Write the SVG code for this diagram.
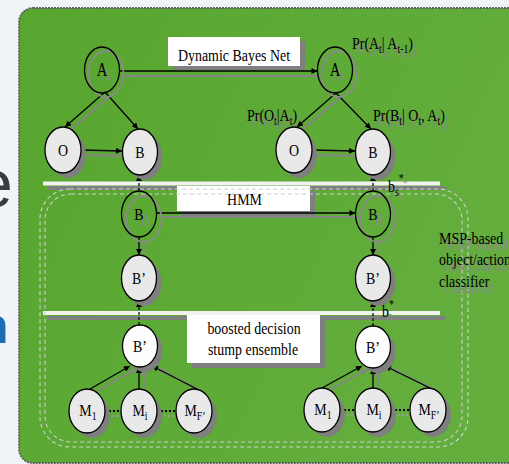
<svg xmlns="http://www.w3.org/2000/svg" width="509" height="464" viewBox="0 0 509 464">
<defs>
<linearGradient id="gp" x1="0" y1="0" x2="1" y2="0.4">
<stop offset="0" stop-color="#57a62f"/>
<stop offset="1" stop-color="#64ae3d"/>
</linearGradient>
<marker id="ah" viewBox="0 0 10 10" refX="10" refY="5" markerWidth="7" markerHeight="6" markerUnits="userSpaceOnUse" orient="auto"><path d="M0,0 L10,5 L0,10 z" fill="#000"/></marker>
<marker id="ahg" viewBox="0 0 10 10" refX="10" refY="5" markerWidth="7" markerHeight="6" markerUnits="userSpaceOnUse" orient="auto"><path d="M0,0 L10,5 L0,10 z" fill="#868686"/></marker>
</defs>
<style>
.t{font-family:"Liberation Serif","Times New Roman",serif;font-size:17px;fill:#000}
.ts{font-family:"Liberation Serif","Times New Roman",serif;font-size:17px;fill:#878d84}
.nf{fill:#e9e9e9;stroke:#000;stroke-width:1.3}
.nw{fill:#fdfdfd;stroke:#000;stroke-width:1.3}
.no{fill:none;stroke:#000;stroke-width:1.3}
.sh{fill:#7f7f7f}
.sho{fill:none;stroke:#8a8a8a;stroke-width:1.8}
.e{stroke:#000;stroke-width:1.3;fill:none;marker-end:url(#ah)}
.es{stroke:#868686;stroke-width:1.8;fill:none}
.esa{stroke:#868686;stroke-width:1.5;fill:none;marker-end:url(#ahg)}
.d{stroke:#000;stroke-width:1.2;fill:none;stroke-dasharray:3,2;marker-end:url(#ah)}
.dot{stroke:#000;stroke-width:2;stroke-dasharray:2,2}
.dotg{stroke:#999;stroke-width:2;stroke-dasharray:2,2}
.dash{fill:none;stroke:#cfcfcf;stroke-width:1.1;stroke-dasharray:4,3}
.box{fill:#fff}
.bsh{fill:#7f7f7f}
</style>
<rect x="0" y="0" width="509" height="464" fill="#f0f4f8"/>
<text x="-25" y="207" font-family="'Liberation Sans',Arial,sans-serif" font-size="68" fill="#3c3c3c">e</text>
<text x="-22" y="343" font-family="'Liberation Sans',Arial,sans-serif" font-size="50" font-weight="bold" fill="#1b6cb5">n</text>
<rect x="19" y="8" width="530" height="455" rx="14" fill="url(#gp)" stroke="#5e5e5e" stroke-width="1.8" stroke-dasharray="2,1"/>

<g id="bars">
<rect x="48" y="186" width="397" height="4" fill="#808080"/>
<rect x="43" y="181.5" width="397" height="4" fill="#f2f2f2"/>
<rect x="48" y="316" width="397" height="4" fill="#808080"/>
<rect x="43" y="311" width="397" height="4" fill="#f2f2f2"/>
</g>

<g id="box-dbn">
<rect class="bsh" x="173" y="41" width="132" height="29"/>
<rect class="box" x="168" y="37" width="132" height="29"/>
<text class="t" text-anchor="middle" transform="translate(234,61) scale(0.82,1)">Dynamic Bayes Net</text>
</g>
<g id="box-hmm">
<rect class="bsh" x="182" y="191" width="133" height="25"/>
<rect class="box" x="177" y="186" width="133" height="25"/>
<text class="t" text-anchor="middle" transform="translate(244.5,205) scale(0.82,1)">HMM</text>
</g>
<g id="box-boost">
<rect class="bsh" x="192" y="320" width="133" height="48"/>
<rect class="box" x="187" y="315" width="133" height="48"/>
<text class="t" text-anchor="middle" transform="translate(254,334) scale(0.82,1)">boosted decision</text>
<text class="t" text-anchor="middle" transform="translate(253,355) scale(0.82,1)">stump ensemble</text>
</g>

<g id="msp-region">
<rect class="dash" x="40" y="189" width="428" height="258" rx="30"/>
<rect class="dash" x="45" y="194" width="417" height="248" rx="26"/>
<text class="ts" transform="translate(444,250) scale(0.82,1)">MSP-based</text>
<text class="ts" transform="translate(444,271) scale(0.82,1)">object/action</text>
<text class="ts" transform="translate(444,293) scale(0.82,1)">classifier</text>
<text class="t" transform="translate(439,244) scale(0.82,1)">MSP-based</text>
<text class="t" transform="translate(439,265) scale(0.82,1)">object/action</text>
<text class="t" transform="translate(439,287) scale(0.82,1)">classifier</text>
</g>

<g id="labels">
<text class="ts" transform="translate(356,54) scale(0.82,1)">Pr(A<tspan font-size="12" dy="4">t</tspan><tspan dy="-4">| A</tspan><tspan font-size="12" dy="4">t-1</tspan><tspan dy="-4">)</tspan></text>
<text class="t" transform="translate(352,49) scale(0.82,1)">Pr(A<tspan font-size="12" dy="4">t</tspan><tspan dy="-4">| A</tspan><tspan font-size="12" dy="4">t-1</tspan><tspan dy="-4">)</tspan></text>
<text class="ts" transform="translate(251,126) scale(0.82,1)">Pr(O<tspan font-size="12" dy="4">t</tspan><tspan dy="-4">|A</tspan><tspan font-size="12" dy="4">t</tspan><tspan dy="-4">)</tspan></text>
<text class="t" transform="translate(247,121) scale(0.82,1)">Pr(O<tspan font-size="12" dy="4">t</tspan><tspan dy="-4">|A</tspan><tspan font-size="12" dy="4">t</tspan><tspan dy="-4">)</tspan></text>
<text class="ts" transform="translate(377,126) scale(0.82,1)">Pr(B<tspan font-size="12" dy="4">t</tspan><tspan dy="-4">| O</tspan><tspan font-size="12" dy="4">t</tspan><tspan dy="-4">, A</tspan><tspan font-size="12" dy="4">t</tspan><tspan dy="-4">)</tspan></text>
<text class="t" transform="translate(373,121) scale(0.82,1)">Pr(B<tspan font-size="12" dy="4">t</tspan><tspan dy="-4">| O</tspan><tspan font-size="12" dy="4">t</tspan><tspan dy="-4">, A</tspan><tspan font-size="12" dy="4">t</tspan><tspan dy="-4">)</tspan></text>
<text class="ts" transform="translate(392,197) scale(0.82,1)">b<tspan font-size="12" dy="4">s</tspan><tspan font-size="12" dy="-14">*</tspan></text>
<text class="t" transform="translate(388,192) scale(0.82,1)">b<tspan font-size="12" dy="4">s</tspan><tspan font-size="12" dy="-14">*</tspan></text>
<text class="ts" transform="translate(386,322) scale(0.82,1)">b<tspan font-size="12" dy="-9">*</tspan></text>
<text class="t" transform="translate(382,317) scale(0.82,1)">b<tspan font-size="12" dy="-9">*</tspan></text>
</g>

<g id="connectors">
<g id="edge-shadows">
<line class="es" x1="124" y1="76" x2="320" y2="76"/>
<line class="es" x1="110" y1="96" x2="70" y2="130"/>
<line class="es" x1="341" y1="97" x2="302" y2="130"/>
<line class="es" x1="86" y1="155" x2="127" y2="156"/>
<line class="es" x1="317" y1="155" x2="360" y2="156"/>
<line class="es" x1="161" y1="217" x2="360" y2="217"/>
<line class="es" x1="143.5" y1="241" x2="143.5" y2="258"/>
<line class="es" x1="377.5" y1="241" x2="377.5" y2="258"/>
<line class="esa" x1="97" y1="391" x2="136" y2="369"/>
<line class="esa" x1="144" y1="392" x2="144" y2="370"/>
<line class="esa" x1="202" y1="391" x2="159" y2="369"/>
<line class="esa" x1="329" y1="390" x2="368" y2="369"/>
<line class="esa" x1="378" y1="391" x2="378" y2="371"/>
<line class="esa" x1="436" y1="390" x2="392" y2="369"/>
<line class="dotg" x1="108" y1="416" x2="124" y2="416"/>
<line class="dotg" x1="160" y1="416" x2="179" y2="416"/>
<line class="dotg" x1="343" y1="415" x2="358" y2="415"/>
<line class="dotg" x1="394" y1="415" x2="413" y2="415"/>
</g>
<line class="e" x1="119.5" y1="71" x2="317.5" y2="71"/>
<line class="e" x1="105" y1="92" x2="65" y2="127"/>
<line class="e" x1="105" y1="92" x2="138" y2="129"/>
<line class="e" x1="81" y1="150" x2="122" y2="151"/>
<line class="e" x1="336" y1="93" x2="297" y2="127"/>
<line class="e" x1="336" y1="93" x2="371" y2="129"/>
<line class="e" x1="312" y1="150" x2="355" y2="151"/>
<line class="d" x1="139" y1="191" x2="139" y2="175"/>
<line class="d" x1="373" y1="191" x2="373" y2="175"/>
<line class="e" x1="156.5" y1="213" x2="355.5" y2="213"/>
<line class="e" x1="139" y1="237" x2="139" y2="255"/>
<line class="e" x1="373" y1="237" x2="373" y2="255"/>
<line class="d" x1="139" y1="325" x2="139" y2="301"/>
<line class="d" x1="373" y1="326" x2="373" y2="301"/>
<line class="e" x1="90" y1="389" x2="130" y2="366"/>
<line class="e" x1="139" y1="389" x2="139" y2="367"/>
<line class="e" x1="197" y1="389" x2="152" y2="366"/>
<line class="e" x1="322" y1="388" x2="362" y2="366"/>
<line class="e" x1="373" y1="388" x2="373" y2="368"/>
<line class="e" x1="430" y1="388" x2="385" y2="366"/>
<line class="dot" x1="105" y1="411" x2="121" y2="411"/>
<line class="dot" x1="157" y1="411" x2="176" y2="411"/>
<line class="dot" x1="340" y1="410" x2="355" y2="410"/>
<line class="dot" x1="391" y1="410" x2="410" y2="410"/>
</g>

<g id="node-A1"><ellipse class="sho" cx="106" cy="74" rx="17.5" ry="23"/><text class="ts" font-size="18" text-anchor="middle" transform="translate(106,80) scale(0.82,1)">A</text><ellipse class="no" cx="102" cy="70" rx="17.5" ry="23"/><text class="t" style="font-size:18px" text-anchor="middle" transform="translate(102,76) scale(0.82,1)">A</text></g>
<g id="node-A2"><ellipse class="sho" cx="339" cy="74" rx="17.5" ry="23"/><text class="ts" text-anchor="middle" transform="translate(339,80) scale(0.82,1)">A</text><ellipse class="no" cx="335" cy="70" rx="17.5" ry="23"/><text class="t" style="font-size:18px" text-anchor="middle" transform="translate(335,76) scale(0.82,1)">A</text></g>
<g id="node-O1"><ellipse class="sh" cx="68" cy="155" rx="18" ry="23"/><ellipse class="nf" cx="63" cy="150" rx="18" ry="23"/><text class="t" text-anchor="middle" transform="translate(63,156) scale(0.82,1)">O</text></g>
<g id="node-B1"><ellipse class="sh" cx="145" cy="157" rx="17.5" ry="23"/><ellipse class="nf" cx="140" cy="152" rx="17.5" ry="23"/><text class="t" text-anchor="middle" transform="translate(140,158) scale(0.82,1)">B</text></g>
<g id="node-O2"><ellipse class="sh" cx="299" cy="155" rx="18" ry="23"/><ellipse class="nf" cx="294" cy="150" rx="18" ry="23"/><text class="t" text-anchor="middle" transform="translate(294,156) scale(0.82,1)">O</text></g>
<g id="node-B2"><ellipse class="sh" cx="378" cy="157" rx="17.5" ry="23"/><ellipse class="nf" cx="373" cy="152" rx="17.5" ry="23"/><text class="t" text-anchor="middle" transform="translate(373,158) scale(0.82,1)">B</text></g>
<g id="node-Bh1"><ellipse class="sho" cx="144" cy="219" rx="17.5" ry="23"/><text class="ts" text-anchor="middle" transform="translate(145,225) scale(0.82,1)">B</text><ellipse class="no" cx="139" cy="214" rx="17.5" ry="23"/><text class="t" text-anchor="middle" transform="translate(139,220) scale(0.82,1)">B</text></g>
<g id="node-Bh2"><ellipse class="sho" cx="378" cy="219" rx="17.5" ry="23"/><text class="ts" text-anchor="middle" transform="translate(379,225) scale(0.82,1)">B</text><ellipse class="no" cx="373" cy="214" rx="17.5" ry="23"/><text class="t" text-anchor="middle" transform="translate(373,220) scale(0.82,1)">B</text></g>
<g id="node-Bp1"><ellipse class="sh" cx="144" cy="283" rx="17.5" ry="23"/><ellipse class="nf" cx="139" cy="278" rx="17.5" ry="23"/><text class="t" text-anchor="middle" transform="translate(139,284) scale(0.82,1)">B’</text></g>
<g id="node-Bp2"><ellipse class="sh" cx="378" cy="283" rx="17.5" ry="23"/><ellipse class="nf" cx="373" cy="278" rx="17.5" ry="23"/><text class="t" text-anchor="middle" transform="translate(373,284) scale(0.82,1)">B’</text></g>
<g id="node-Bq1"><ellipse class="sh" cx="145" cy="351" rx="17.5" ry="21"/><ellipse class="nw" cx="140" cy="346" rx="17.5" ry="21"/><text class="t" text-anchor="middle" transform="translate(140,352) scale(0.82,1)">B’</text></g>
<g id="node-Bq2"><ellipse class="sh" cx="378" cy="352" rx="17.5" ry="21"/><ellipse class="nw" cx="373" cy="347" rx="17.5" ry="21"/><text class="t" text-anchor="middle" transform="translate(373,353) scale(0.82,1)">B’</text></g>
<g id="node-M1L"><ellipse class="sh" cx="92" cy="416" rx="18" ry="22"/><ellipse class="nf" cx="87" cy="411" rx="18" ry="22"/><text class="t" text-anchor="middle" transform="translate(88,416) scale(0.82,1)">M<tspan font-size="12" dy="4">1</tspan></text></g>
<g id="node-MiL"><ellipse class="sh" cx="144" cy="416" rx="18" ry="22"/><ellipse class="nf" cx="139" cy="411" rx="18" ry="22"/><text class="t" text-anchor="middle" transform="translate(140,416) scale(0.82,1)">M<tspan font-size="12" dy="4">i</tspan></text></g>
<g id="node-MFL"><ellipse class="sh" cx="199" cy="416" rx="18" ry="22"/><ellipse class="nf" cx="194" cy="411" rx="18" ry="22"/><text class="t" text-anchor="middle" transform="translate(195,416) scale(0.82,1)">M<tspan font-size="12" dy="4">F’</tspan></text></g>
<g id="node-M1R"><ellipse class="sh" cx="327" cy="415" rx="18" ry="22"/><ellipse class="nf" cx="322" cy="410" rx="18" ry="22"/><text class="t" text-anchor="middle" transform="translate(323,415) scale(0.82,1)">M<tspan font-size="12" dy="4">1</tspan></text></g>
<g id="node-MiR"><ellipse class="sh" cx="378" cy="415" rx="18" ry="22"/><ellipse class="nf" cx="373" cy="410" rx="18" ry="22"/><text class="t" text-anchor="middle" transform="translate(374,415) scale(0.82,1)">M<tspan font-size="12" dy="4">i</tspan></text></g>
<g id="node-MFR"><ellipse class="sh" cx="433" cy="415" rx="18" ry="22"/><ellipse class="nf" cx="428" cy="410" rx="18" ry="22"/><text class="t" text-anchor="middle" transform="translate(429,415) scale(0.82,1)">M<tspan font-size="12" dy="4">F’</tspan></text></g>
</svg>
